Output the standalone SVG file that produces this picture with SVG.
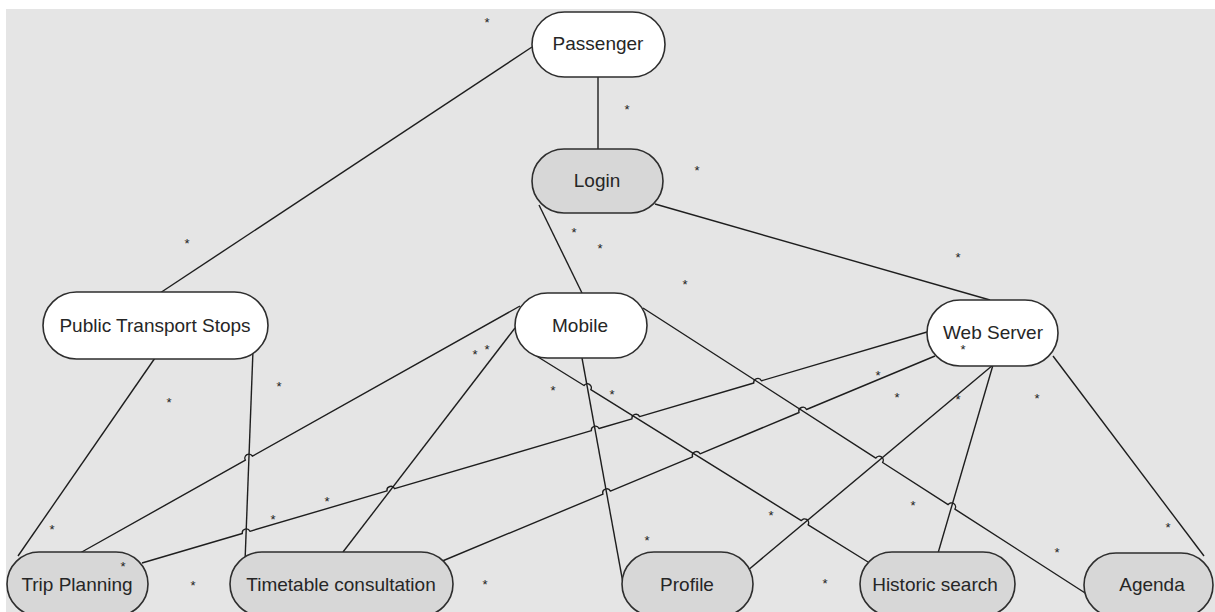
<svg xmlns="http://www.w3.org/2000/svg" width="1215" height="612" viewBox="0 0 1215 612">
  <style>
    .bg { fill: #e5e5e5; }
    .conn { fill: none; stroke: #1e1e1e; stroke-width: 1.4; stroke-linejoin: round; }
    .node rect { stroke: #2e2e2e; stroke-width: 1.6; }
    .light rect { fill: #ffffff; }
    .dark rect { fill: #d7d7d7; }
    .node text { font-family: "Liberation Sans", Arial, sans-serif; font-size: 19px; fill: #262626; text-anchor: middle; }
    .mult { font-family: "Liberation Sans", Arial, sans-serif; font-size: 13px; fill: #222222; text-anchor: middle; }
  </style>

  <rect x="0" y="0" width="1215" height="612" fill="#ffffff"/>
  <rect class="bg" x="6" y="9" width="1209" height="603"/>

  <!-- associations; small arcs mark line jumps at crossings -->
  <g id="connectors" class="conn">
    <path d="M532 47 L160 293"/>
    <path d="M598 77 L598 149"/>
    <path d="M539 205 L582 293"/>
    <path d="M655 204 L990 300"/>
    <path d="M155 358 L18 556"/>
    <path d="M253 350 L245 562"/>
    <path d="M520 306 L252.4 456.2 A4 4 0 0 0 245.4 460.2 L80 553"/>
    <path d="M515 328 L343 552"/>
    <path d="M582 358 L623 583"/>
    <path d="M530 352 L584 385.5 A4 4 0 0 1 590.8 389.7 L801.3 520.6 A4 4 0 0 1 808.1 524.8 L868 562"/>
    <path d="M643 308 L875.8 458.1 A4 4 0 0 1 882.6 462.5 L948.1 504.7 A4 4 0 0 1 954.9 509.1 L1096 600"/>
    <path d="M927 332 L761.4 380.8 A4 4 0 0 0 753.8 383 L639.6 416.6 A4 4 0 0 0 632 418.8 L599 428.5 A4 4 0 0 0 591.4 430.7 L394.6 488.7 A4 4 0 0 0 387 490.9 L249.9 531.3 A4 4 0 0 0 242.3 533.5 L142 563"/>
    <path d="M935 356 L806.5 409.5 A4 4 0 0 0 799.1 412.5 L700 453.8 A4 4 0 0 0 692.6 456.8 L610.4 491.1 A4 4 0 0 0 603 494.1 L440 562"/>
    <path d="M993 365 L747 571"/>
    <path d="M993 365 L936 560"/>
    <path d="M1053 356 L1204 556"/>
  </g>

  <g id="passenger" class="node light">
    <rect x="532" y="12" width="133" height="65" rx="32.5"/>
    <text x="598" y="50">Passenger</text>
  </g>
  <g id="login" class="node dark">
    <rect x="532" y="149" width="131" height="64" rx="32"/>
    <text x="597" y="187">Login</text>
  </g>
  <g id="public-transport-stops" class="node light">
    <rect x="43" y="292" width="225" height="67" rx="33.5"/>
    <text x="155" y="332">Public Transport Stops</text>
  </g>
  <g id="mobile" class="node light">
    <rect x="515" y="293" width="132" height="65" rx="32.5"/>
    <text x="580" y="332">Mobile</text>
  </g>
  <g id="web-server" class="node light">
    <rect x="927" y="300" width="131" height="66" rx="33"/>
    <text x="993" y="339">Web Server</text>
  </g>
  <g id="trip-planning" class="node dark">
    <rect x="7" y="552" width="141" height="64" rx="32"/>
    <text x="77" y="591">Trip Planning</text>
  </g>
  <g id="timetable-consultation" class="node dark">
    <rect x="230" y="552" width="223" height="64" rx="32"/>
    <text x="341" y="591">Timetable consultation</text>
  </g>
  <g id="profile" class="node dark">
    <rect x="622" y="552" width="131" height="64" rx="32"/>
    <text x="687" y="591">Profile</text>
  </g>
  <g id="historic-search" class="node dark">
    <rect x="860" y="552" width="155" height="64" rx="32"/>
    <text x="935" y="591">Historic search</text>
  </g>
  <g id="agenda" class="node dark">
    <rect x="1084" y="553" width="129" height="64" rx="32"/>
    <text x="1152" y="591">Agenda</text>
  </g>

  <!-- multiplicity marks -->
  <g id="multiplicities" class="mult">
    <text x="487" y="27">*</text>
    <text x="627" y="114">*</text>
    <text x="697" y="175">*</text>
    <text x="187" y="248">*</text>
    <text x="574" y="237">*</text>
    <text x="600" y="253">*</text>
    <text x="685" y="289">*</text>
    <text x="958" y="262">*</text>
    <text x="279" y="391">*</text>
    <text x="169" y="407">*</text>
    <text x="475" y="359">*</text>
    <text x="487" y="354">*</text>
    <text x="553" y="395">*</text>
    <text x="612" y="399">*</text>
    <text x="878" y="380">*</text>
    <text x="897" y="402">*</text>
    <text x="958" y="404">*</text>
    <text x="1037" y="403">*</text>
    <text x="963" y="354">*</text>
    <text x="327" y="506">*</text>
    <text x="273" y="524">*</text>
    <text x="52" y="534">*</text>
    <text x="123" y="571">*</text>
    <text x="193" y="590">*</text>
    <text x="485" y="589">*</text>
    <text x="647" y="545">*</text>
    <text x="771" y="520">*</text>
    <text x="913" y="510">*</text>
    <text x="825" y="588">*</text>
    <text x="1057" y="557">*</text>
    <text x="1168" y="532">*</text>
  </g>
</svg>
